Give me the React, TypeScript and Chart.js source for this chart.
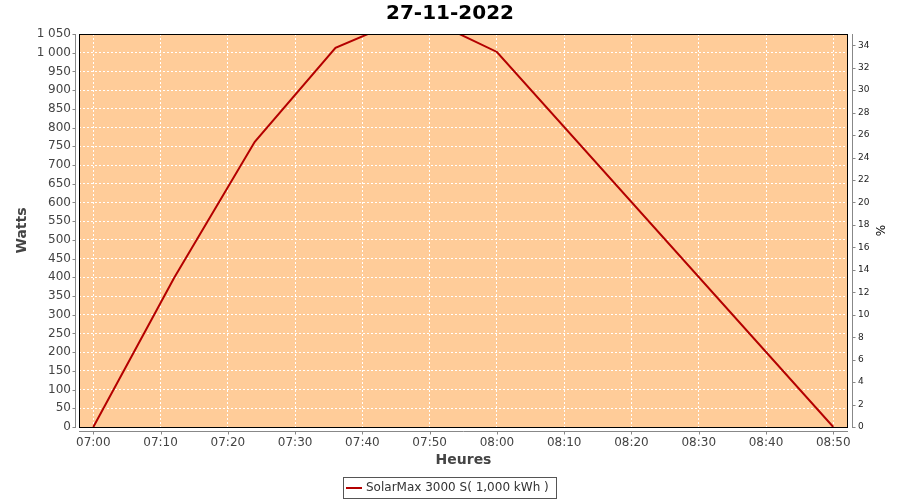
import React, { useEffect, useRef } from "react";
import { Chart, registerables } from "chart.js";

Chart.register(...registerables);

const chartTitle = "27-11-2022";
const seriesName = "SolarMax 3000 S( 1,000 kWh )";
const times = ["07:00", "07:12", "07:24", "07:36", "07:48", "08:00", "08:50"];
const watts = [0, 398, 762, 1013, 1105, 1002, 0];
const xTickLabels = ["07:00", "07:10", "07:20", "07:30", "07:40", "07:50", "08:00", "08:10", "08:20", "08:30", "08:40", "08:50"];
const leftTicks = [0, 50, 100, 150, 200, 250, 300, 350, 400, 450, 500, 550, 600, 650, 700, 750, 800, 850, 900, 950, 1000, 1050];
const rightTicks = [0, 2, 4, 6, 8, 10, 12, 14, 16, 18, 20, 22, 24, 26, 28, 30, 32, 34];

const toMin = (s: string) => {
  const [h, m] = s.split(":").map(Number);
  return h * 60 + m;
};
const fmtMin = (v: number) => {
  const h = Math.floor(v / 60);
  const m = Math.round(v - h * 60);
  return String(h).padStart(2, "0") + ":" + String(m).padStart(2, "0");
};
const fmtWatts = (v: number) => {
  const s = String(v);
  return s.length > 3 ? s.slice(0, s.length - 3) + " " + s.slice(-3) : s;
};

const FONT = "'DejaVu Sans', sans-serif";

const decorPlugin = {
  id: "decor",
  beforeDraw(chart: any) {
    const { ctx, chartArea: ca } = chart;
    ctx.save();
    ctx.fillStyle = "#FFFFFF";
    ctx.fillRect(0, 0, chart.width, chart.height);
    ctx.fillStyle = "#FFCC99";
    ctx.fillRect(ca.left, ca.top, ca.right - ca.left, ca.bottom - ca.top);
    ctx.restore();
  },
  afterDraw(chart: any) {
    const { ctx, chartArea: ca } = chart;
    const xs = chart.scales.x;
    const yl = chart.scales.y;
    const yr = chart.scales.y1;
    ctx.save();
    // plot border
    ctx.strokeStyle = "#000";
    ctx.lineWidth = 1;
    ctx.setLineDash([]);
    ctx.strokeRect(ca.left + 0.5, ca.top + 0.5, ca.right - ca.left - 1, ca.bottom - ca.top);
    // axis lines
    ctx.strokeStyle = "#888";
    ctx.beginPath();
    const lx = ca.left - 3.5;
    ctx.moveTo(lx, ca.top);
    ctx.lineTo(lx, ca.bottom + 1);
    yl.ticks.forEach((t: any) => {
      const py = Math.round(yl.getPixelForValue(t.value)) + 0.5;
      ctx.moveTo(lx - 3, py);
      ctx.lineTo(lx, py);
    });
    const by = ca.bottom + 4.5;
    ctx.moveTo(ca.left, by);
    ctx.lineTo(ca.right, by);
    xs.ticks.forEach((t: any) => {
      const px = Math.round(xs.getPixelForValue(t.value)) + 0.5;
      ctx.moveTo(px, by);
      ctx.lineTo(px, by + 3);
    });
    const rx = ca.right + 4.5;
    ctx.moveTo(rx, ca.top);
    ctx.lineTo(rx, ca.bottom + 1);
    yr.ticks.forEach((t: any) => {
      const py = Math.round(yr.getPixelForValue(t.value)) + 0.5;
      ctx.moveTo(rx, py);
      ctx.lineTo(rx + 3, py);
    });
    ctx.stroke();

    // title
    ctx.fillStyle = "#000";
    ctx.font = "bold 20px " + FONT;
    ctx.textAlign = "center";
    ctx.textBaseline = "middle";
    ctx.fillText(chartTitle, 450, 14);

    // axis titles
    const cy = (ca.top + ca.bottom) / 2;
    ctx.fillStyle = "#444";
    ctx.font = "bold 14px " + FONT;
    ctx.fillText("Heures", (ca.left + ca.right) / 2, 460);
    ctx.save();
    ctx.translate(22, cy);
    ctx.rotate(-Math.PI / 2);
    ctx.fillText("Watts", 0, 0);
    ctx.restore();
    ctx.save();
    ctx.fillStyle = "#000";
    ctx.font = "12px " + FONT;
    ctx.translate(882, cy);
    ctx.rotate(-Math.PI / 2);
    ctx.fillText("%", 0, 0);
    ctx.restore();

    // legend
    ctx.strokeStyle = "#555";
    ctx.lineWidth = 1;
    ctx.strokeRect(343.5, 477.5, 213, 21);
    ctx.strokeStyle = "#B40000";
    ctx.lineWidth = 2;
    ctx.beginPath();
    ctx.moveTo(346, 488);
    ctx.lineTo(362, 488);
    ctx.stroke();
    ctx.fillStyle = "#333";
    ctx.font = "12px " + FONT;
    ctx.textAlign = "left";
    ctx.fillText(seriesName, 366, 488);
    ctx.restore();
  },
};

export default function App() {
  const ref = useRef<HTMLCanvasElement>(null);
  useEffect(() => {
    if (!ref.current) return;
    const xMinVal = toMin(xTickLabels[0]) - 2.13;
    const xMaxVal = toMin(xTickLabels[xTickLabels.length - 1]) + 2.19;
    const chart = new Chart(ref.current, {
      type: "line",
      data: {
        datasets: [
          {
            label: seriesName,
            data: times.map((t, i) => ({ x: toMin(t), y: watts[i] })),
            borderColor: "#B40000",
            borderWidth: 2,
            pointRadius: 0,
            tension: 0,
            fill: false,
            yAxisID: "y",
          },
        ],
      },
      options: {
        responsive: false,
        animation: false,
        layout: { padding: { top: 34, left: 0, right: 0, bottom: 0 } },
        plugins: {
          legend: { display: false },
          title: { display: false },
          tooltip: { enabled: false },
        },
        scales: {
          x: {
            type: "linear",
            min: xMinVal,
            max: xMaxVal,
            afterBuildTicks: (s: any) => {
              s.ticks = xTickLabels.map((l) => ({ value: toMin(l) }));
            },
            afterFit: (s: any) => {
              s.height = 73;
            },
            ticks: {
              callback: (v: any) => fmtMin(Number(v)),
              color: "#444",
              font: { family: FONT, size: 12 },
              padding: 9,
              maxRotation: 0,
              autoSkip: false,
            },
            grid: { color: "#FFFFFF", lineWidth: 1, drawTicks: false },
            border: { display: false, dash: [2, 2] },
          },
          y: {
            position: "left",
            min: 0,
            max: 1050,
            afterBuildTicks: (s: any) => {
              s.ticks = leftTicks.map((v) => ({ value: v }));
            },
            afterFit: (s: any) => {
              s.width = 79;
            },
            ticks: {
              callback: (v: any) => fmtWatts(Number(v)),
              color: "#444",
              font: { family: FONT, size: 12 },
              padding: 8,
              autoSkip: false,
            },
            grid: { color: "#FFFFFF", lineWidth: 1, drawTicks: false },
            border: { display: false, dash: [2, 2] },
          },
          y1: {
            position: "right",
            min: 0,
            max: 35,
            afterBuildTicks: (s: any) => {
              s.ticks = rightTicks.map((v) => ({ value: v }));
            },
            afterFit: (s: any) => {
              s.width = 52;
            },
            ticks: {
              color: "#222",
              font: { family: FONT, size: 9 },
              padding: 10,
              autoSkip: false,
            },
            grid: { display: false, drawTicks: false },
            border: { display: false },
          },
        },
      },
      plugins: [decorPlugin],
    });
    return () => chart.destroy();
  }, []);
  return (
    <div style={{ position: "fixed", left: 0, top: 0, width: 900, height: 500 }}>
      <canvas ref={ref} width={900} height={500} />
    </div>
  );
}
